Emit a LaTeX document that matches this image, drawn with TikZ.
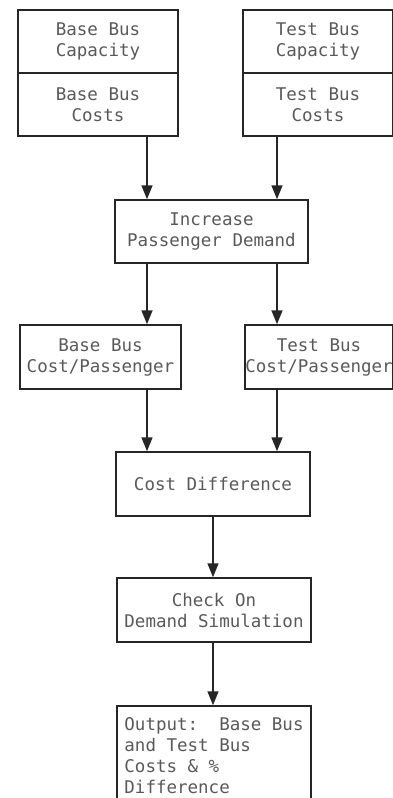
\documentclass[tikz,border=0pt]{standalone}
\usepackage{fontspec}
\usetikzlibrary{arrows.meta}
\newfontfamily\boxfont{DejaVu Sans Mono}

\begin{document}
\begin{tikzpicture}[x=1pt,y=-1pt,
    box/.style={draw=black!85,line width=1.5pt,inner xsep=0pt,minimum height=63pt,
      align=center,text=black!65,font={\boxfont\fontsize{17.5}{21}\selectfont}},
    arr/.style={black!85,line width=1.6pt,-{Triangle[width=11pt,length=14pt]}}]
      \useasboundingbox (0,0) rectangle (393,798);

      \node[box,minimum width=160pt] (bcap)  at (98,  41.5) {Base Bus\\Capacity};
      \node[box,minimum width=160pt] (bcost) at (98,  104.5) {Base Bus\\Costs};
      \node[box,minimum width=150pt] (tcap)  at (318, 41.5) {Test Bus\\Capacity};
      \node[box,minimum width=150pt] (tcost) at (318, 104.5) {Test Bus\\Costs};
      \node[box,minimum width=193pt] (inc)   at (211.5, 231.5) {Increase\\Passenger Demand};
      \node[box,minimum width=161pt,minimum height=64pt] (bcpp) at (100.5, 357) {Base Bus\\Cost/Passenger};
      \node[box,minimum width=148pt,minimum height=64pt] (tcpp) at (319, 357) {Test Bus\\Cost/Passenger};
      \node[box,minimum width=194pt,minimum height=64pt] (diff)  at (213, 484) {Cost Difference};
      \node[box,minimum width=194pt,minimum height=64pt] (check) at (214, 610) {Check On\\Demand Simulation};
      \node[box,minimum width=194pt,minimum height=100pt,align=left] (outp) at (214, 756)
        {Output:\ \ Base Bus\\and Test Bus\\Costs \& \%\\Difference};

      \coordinate (lc) at (147, 0);
      \coordinate (rc) at (277, 0);
      \coordinate (mc) at (213, 0);

      \path[arr]
        (bcost.south -| lc) edge (inc.north -| lc)
        (tcost.south -| rc) edge (inc.north -| rc)
        (inc.south -| lc)   edge (bcpp.north -| lc)
        (inc.south -| rc)   edge (tcpp.north -| rc)
        (bcpp.south -| lc)  edge (diff.north -| lc)
        (tcpp.south -| rc)  edge (diff.north -| rc)
        (diff.south -| mc)  edge (check.north -| mc)
        (check.south -| mc) edge (outp.north -| mc);
\end{tikzpicture}
\end{document}
